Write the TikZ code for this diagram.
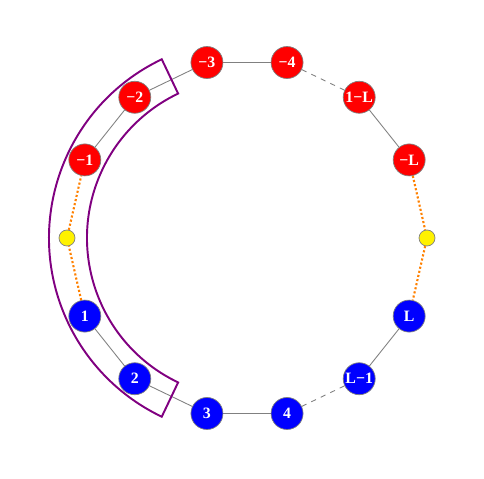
\documentclass[tikz,border=0pt]{standalone}
\usepackage{fontspec}
\setmainfont{Liberation Serif}
\usepackage{tikz}
\definecolor{window}{RGB}{128,0,128}
\definecolor{linkorange}{RGB}{255,128,0}

\begin{document}
\begin{tikzpicture}
                \tikzset{site/.style = {shape=circle,draw=gray,inner sep=0pt,minimum size=0.64cm,text=white,font=\fontsize{9}{10}\selectfont\bfseries}}
                \tikzset{negsite/.style = {site,fill=red}}
                \tikzset{possite/.style = {site,fill=blue}}
                \tikzset{edgesite/.style = {shape=circle,draw=gray,fill=yellow,inner sep=0pt,minimum size=0.32cm}}
                \tikzset{bond/.style = {gray,line width=0.5pt}}
                \tikzset{gap/.style = {gray,dashed,line width=0.5pt}}
                \tikzset{link/.style = {linkorange,dash pattern=on 1.2pt off 1.2pt,line width=1.2pt}}
                \useasboundingbox (-4.94,-4.8) rectangle (4.74,4.76);

                % boundary sites
                \node[edgesite] (yr) at (0:3.6) {};
                \node[edgesite] (yl) at (180:3.6) {};

                \node[negsite] (mL)  at (25.71:3.6)  {−L};
                \node[negsite] (m1L) at (51.43:3.6)  {1−L};
                \node[negsite] (m4)  at (77.14:3.6)  {−4};
                \node[negsite] (m3)  at (102.86:3.6) {−3};
                \node[negsite] (m2)  at (128.57:3.6) {−2};
                \node[negsite] (m1)  at (154.29:3.6) {−1};

                \node[possite] (p1)  at (205.71:3.6) {1};
                \node[possite] (p2)  at (231.43:3.6) {2};
                \node[possite] (p3)  at (257.14:3.6) {3};
                \node[possite] (p4)  at (282.86:3.6) {4};
                \node[possite] (pL1) at (308.57:3.6) {L−1};
                \node[possite] (pL)  at (334.29:3.6) {L};

                \draw[bond] (m1) -- (m2);
                \draw[bond] (m2) -- (m3);
                \draw[bond] (m3) -- (m4);
                \draw[gap] (m4) -- (m1L);
                \draw[bond] (m1L) -- (mL);
                \draw[link] (mL) -- (yr);
                \draw[link] (yr) -- (pL);
                \draw[bond] (pL) -- (pL1);
                \draw[gap] (pL1) -- (p4);
                \draw[bond] (p4) -- (p3);
                \draw[bond] (p3) -- (p2);
                \draw[bond] (p2) -- (p1);
                \draw[link] (p1) -- (yl);
                \draw[link] (yl) -- (m1);

                % window
                \draw[window,line width=1.1pt] (115.5:3.96) arc (115.5:244.5:3.96)
                    -- (244.5:3.2) arc (244.5:115.5:3.2) -- cycle;
\end{tikzpicture}
\end{document}
